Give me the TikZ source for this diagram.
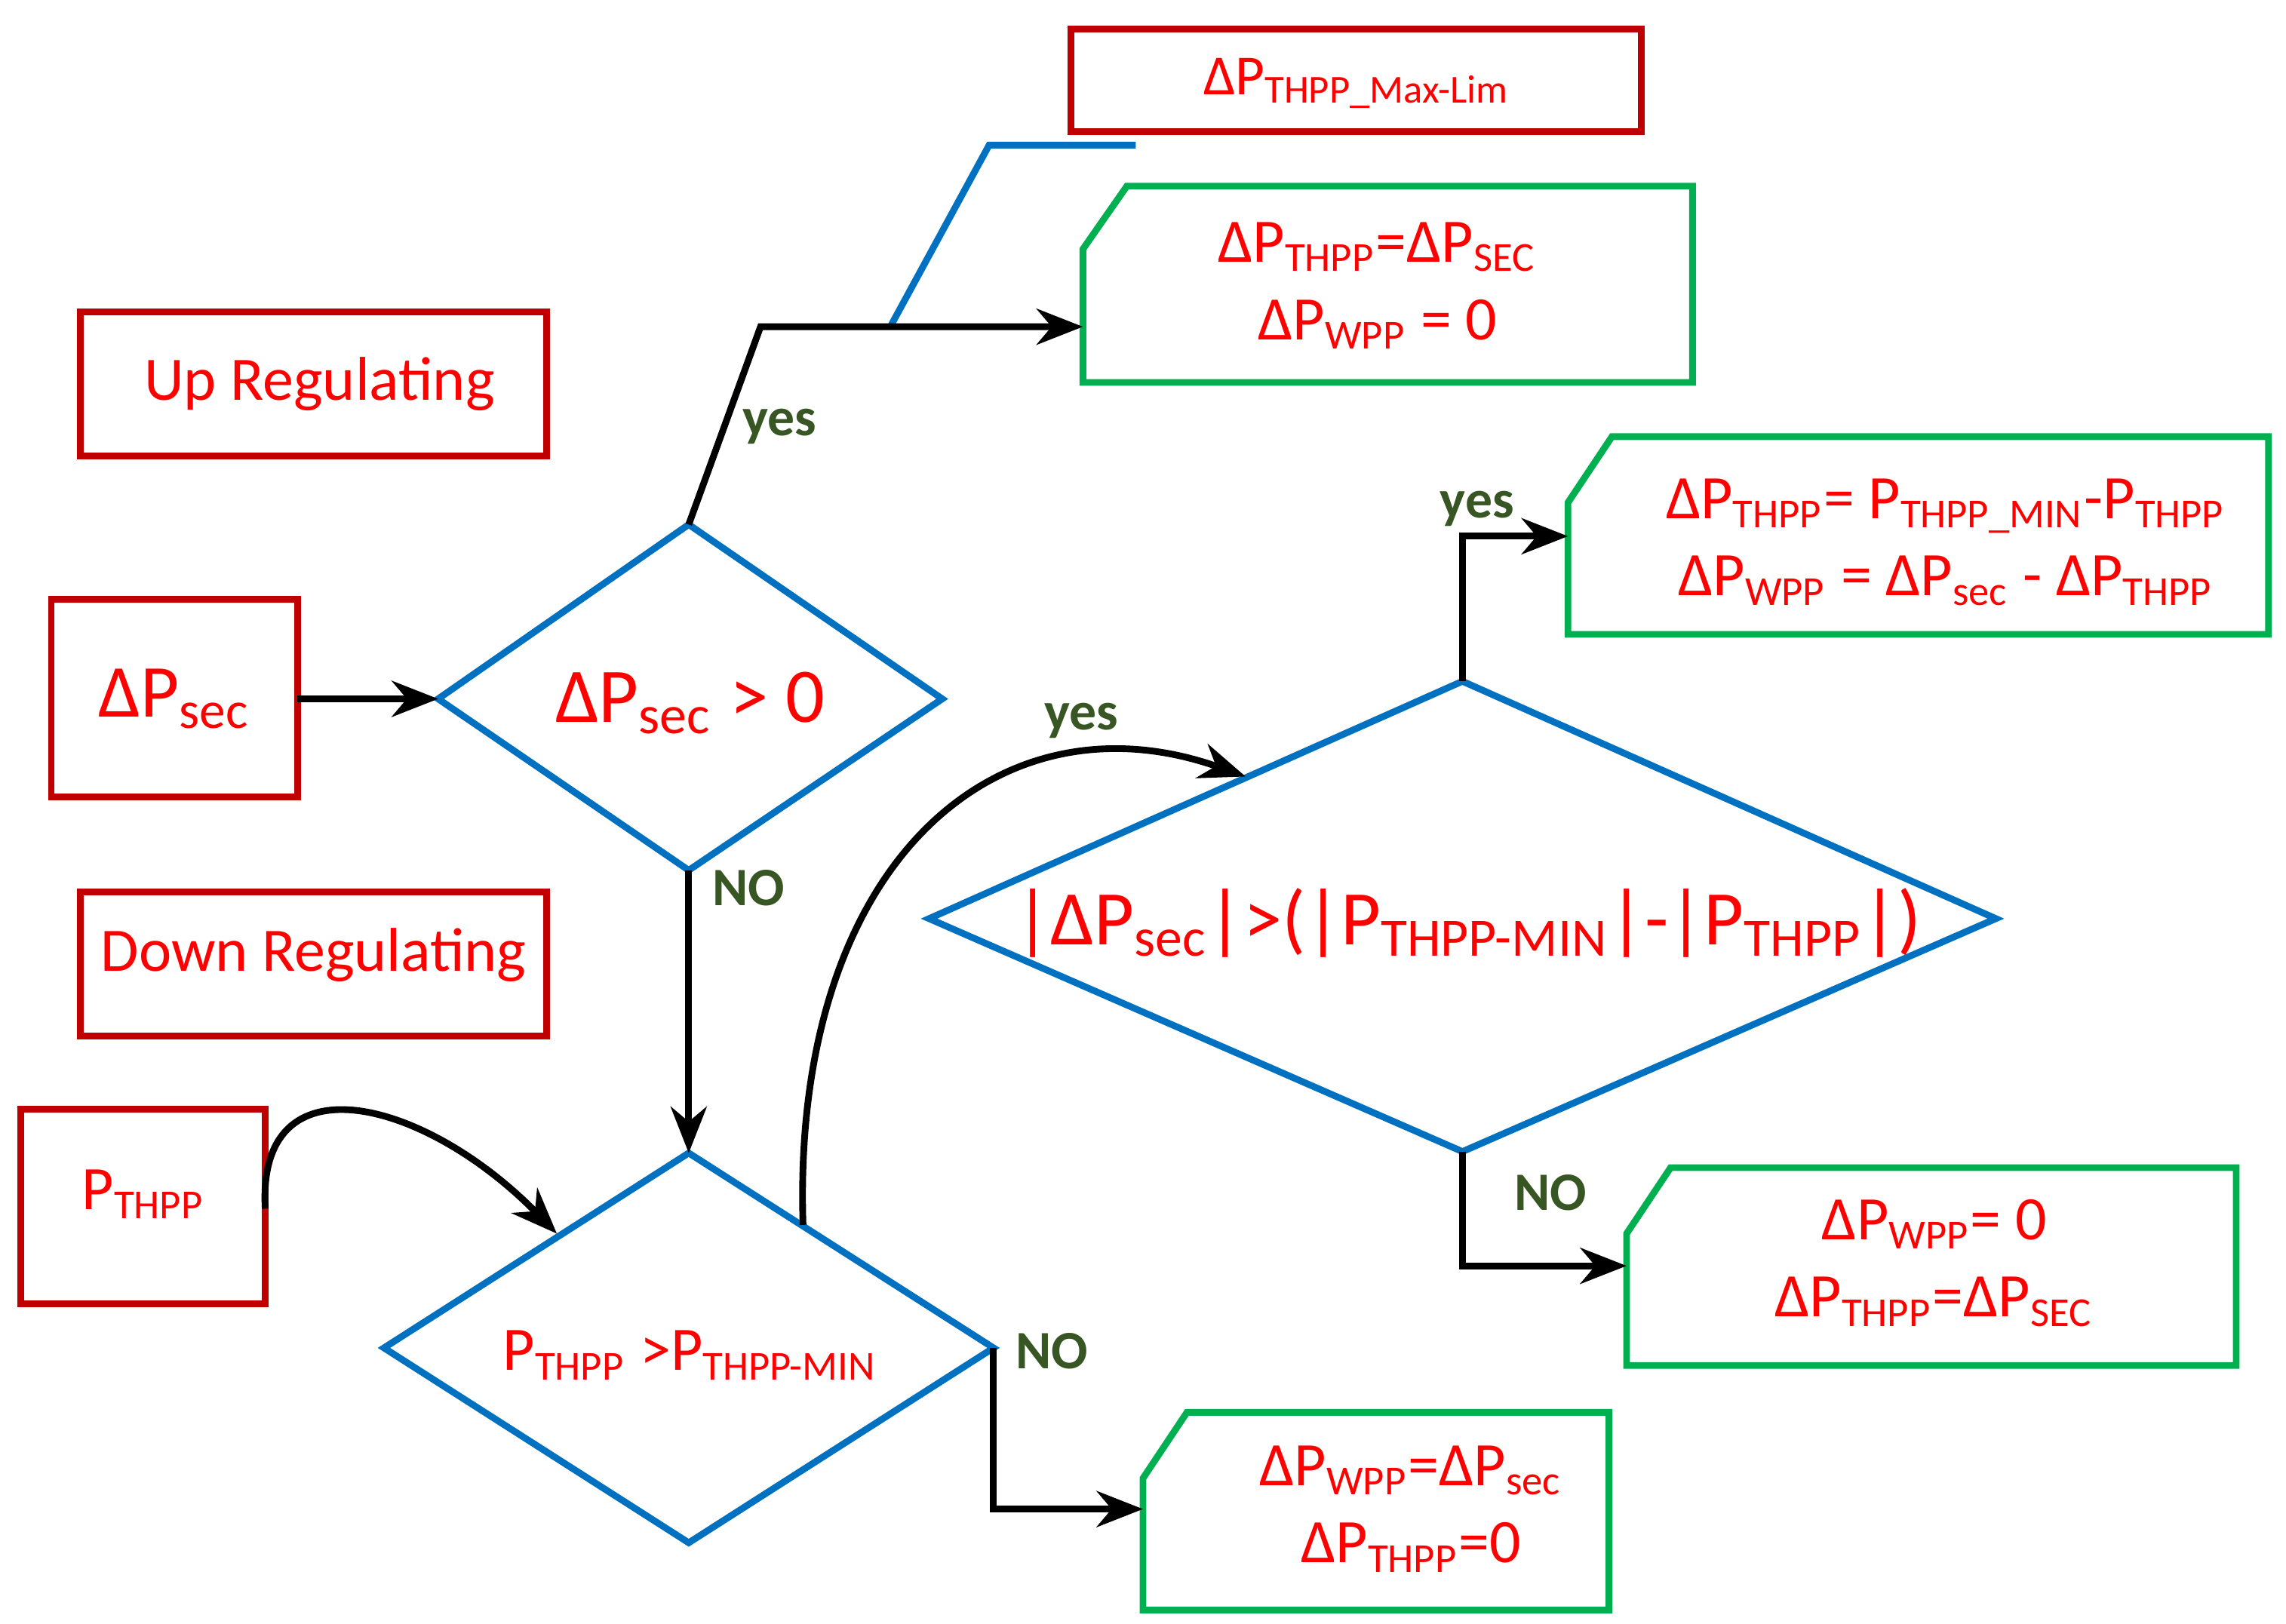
\documentclass[tikz,border=0pt]{standalone}
\usepackage{fontspec}
\setmainfont{Carlito}
\usetikzlibrary{arrows.meta}
\definecolor{rb}{RGB}{192,0,0}
\definecolor{bl}{RGB}{0,112,192}
\definecolor{gr}{RGB}{0,176,80}
\definecolor{dg}{RGB}{55,86,35}
\definecolor{tr}{RGB}{255,0,0}
\newcommand{\sbs}[1]{\textsubscript{#1}}
\begin{document}
\begin{tikzpicture}[x=0.01cm,y=-0.01cm,
  redbox/.style={draw=rb,line width=1.3pt},
  grbox/.style={draw=gr,line width=1.3pt},
  dia/.style={draw=bl,line width=1.3pt},
  txt/.style={text=tr,font=\fontsize{12}{15}\selectfont,align=center},
  lab/.style={text=dg,font=\fontsize{10.5}{12}\selectfont\bfseries},
  arr/.style={line width=1.3pt,-{Stealth[length=9pt,width=7pt]}}]
\useasboundingbox (0,0) rectangle (1560,1108);
% red boxes
\draw[redbox] (55,213) rectangle (373,311);
\node[txt] (up) at (218,262) {Up Regulating};
\draw[redbox] (35,409) rectangle (203,544);
\node[txt,font=\fontsize{14.5}{17}\selectfont] (dp) at (119,477) {ΔP\sbs{sec}};
\coordinate (dpR) at (203,477);
\draw[redbox] (55,609) rectangle (373,707);
\node[txt] (down) at (214,652) {Down Regulating};
\draw[redbox] (14,757) rectangle (181,890);
\node[txt] (pt) at (98,815) {P\sbs{THPP}};
\coordinate (ptR) at (181,825);
\draw[redbox] (731,20) rectangle (1120,90);
\node[txt,font=\fontsize{11}{13}\selectfont] (max) at (926,57) {ΔP\sbs{THPP\_Max-Lim}};
% blue line
\draw[bl,line width=1.3pt] (607,224) -- (675,99) -- (775,99);
% green boxes
\draw[grbox] (769,127) -- (1155,127) -- (1155,261) -- (739,261) -- (739,170) -- cycle;
\node[txt] (g1) at (940,195) {ΔP\sbs{THPP}=ΔP\sbs{SEC}\\ΔP\sbs{WPP} = 0};
\draw[grbox] (1100,298) -- (1548,298) -- (1548,433) -- (1070,433) -- (1070,343) -- cycle;
\node[txt] (g2) at (1328,370) {ΔP\sbs{THPP}= P\sbs{THPP\_MIN}-P\sbs{THPP}\\ΔP\sbs{WPP} = ΔP\sbs{sec} - ΔP\sbs{THPP}};
\draw[grbox] (1140,797) -- (1526,797) -- (1526,932) -- (1110,932) -- (1110,842) -- cycle;
\node[txt] (g3) at (1320,862) {ΔP\sbs{WPP}= 0\\ΔP\sbs{THPP}=ΔP\sbs{SEC}};
\draw[grbox] (810,964) -- (1098,964) -- (1098,1099) -- (780,1099) -- (780,1009) -- cycle;
\node[txt] (g4) at (963,1030) {ΔP\sbs{WPP}=ΔP\sbs{sec}\\ΔP\sbs{THPP}=0};
% diamonds
\coordinate (d1L) at (299,477); \coordinate (d1T) at (470,358);
\coordinate (d1R) at (643,477); \coordinate (d1B) at (470,594);
\draw[dia] (d1L) -- (d1T) -- (d1R) -- (d1B) -- cycle;
\node[txt,font=\fontsize{15}{18}\selectfont] (c1) at (471,480) {ΔP\sbs{sec} > 0};
\coordinate (d2L) at (634,627); \coordinate (d2T) at (998,465);
\coordinate (d2R) at (1362,627); \coordinate (d2B) at (998,786);
\draw[dia] (d2L) -- (d2T) -- (d2R) -- (d2B) -- cycle;
\node[txt,font=\fontsize{15}{18}\selectfont] (c2) at (1002,630) {|ΔP\sbs{sec}|>(|P\sbs{THPP-MIN}|-|P\sbs{THPP}|)};
\coordinate (d3L) at (262,920); \coordinate (d3T) at (470,787);
\coordinate (d3R) at (678,920); \coordinate (d3B) at (470,1053);
\draw[dia] (d3L) -- (d3T) -- (d3R) -- (d3B) -- cycle;
\node[txt] (c3) at (471,925) {P\sbs{THPP} >P\sbs{THPP-MIN}};
% connectors
\coordinate (g1L) at (739,223);
\coordinate (g2L) at (1070,366);
\coordinate (g3L) at (1110,864);
\coordinate (g4L) at (780,1030);
\coordinate (d3A) at (548,836);
\coordinate (d2A) at (850,530);
\coordinate (d3in) at (380,842);
\draw[arr] (dpR) -- (d1L);
\draw[arr] (d1T) -- (519,223) -- (g1L);
\draw[arr] (d1B) -- (d3T);
\draw[arr] (ptR) .. controls (175,720) and (290,750) .. (d3in);
\draw[arr] (d3A) .. controls (540,590) and (680,470) .. (d2A);
\draw[arr] (d3R) -- (678,1030) -- (g4L);
\draw[arr] (d2T) -- (998,366) -- (g2L);
\draw[arr] (d2B) -- (998,864) -- (g3L);
% labels
\node[lab] at (532,291) {yes};
\node[lab] at (511,606) {NO};
\node[lab] at (738,492) {yes};
\node[lab] at (718,922) {NO};
\node[lab] at (1008,347) {yes};
\node[lab] at (1058,814) {NO};
\end{tikzpicture}
\end{document}
